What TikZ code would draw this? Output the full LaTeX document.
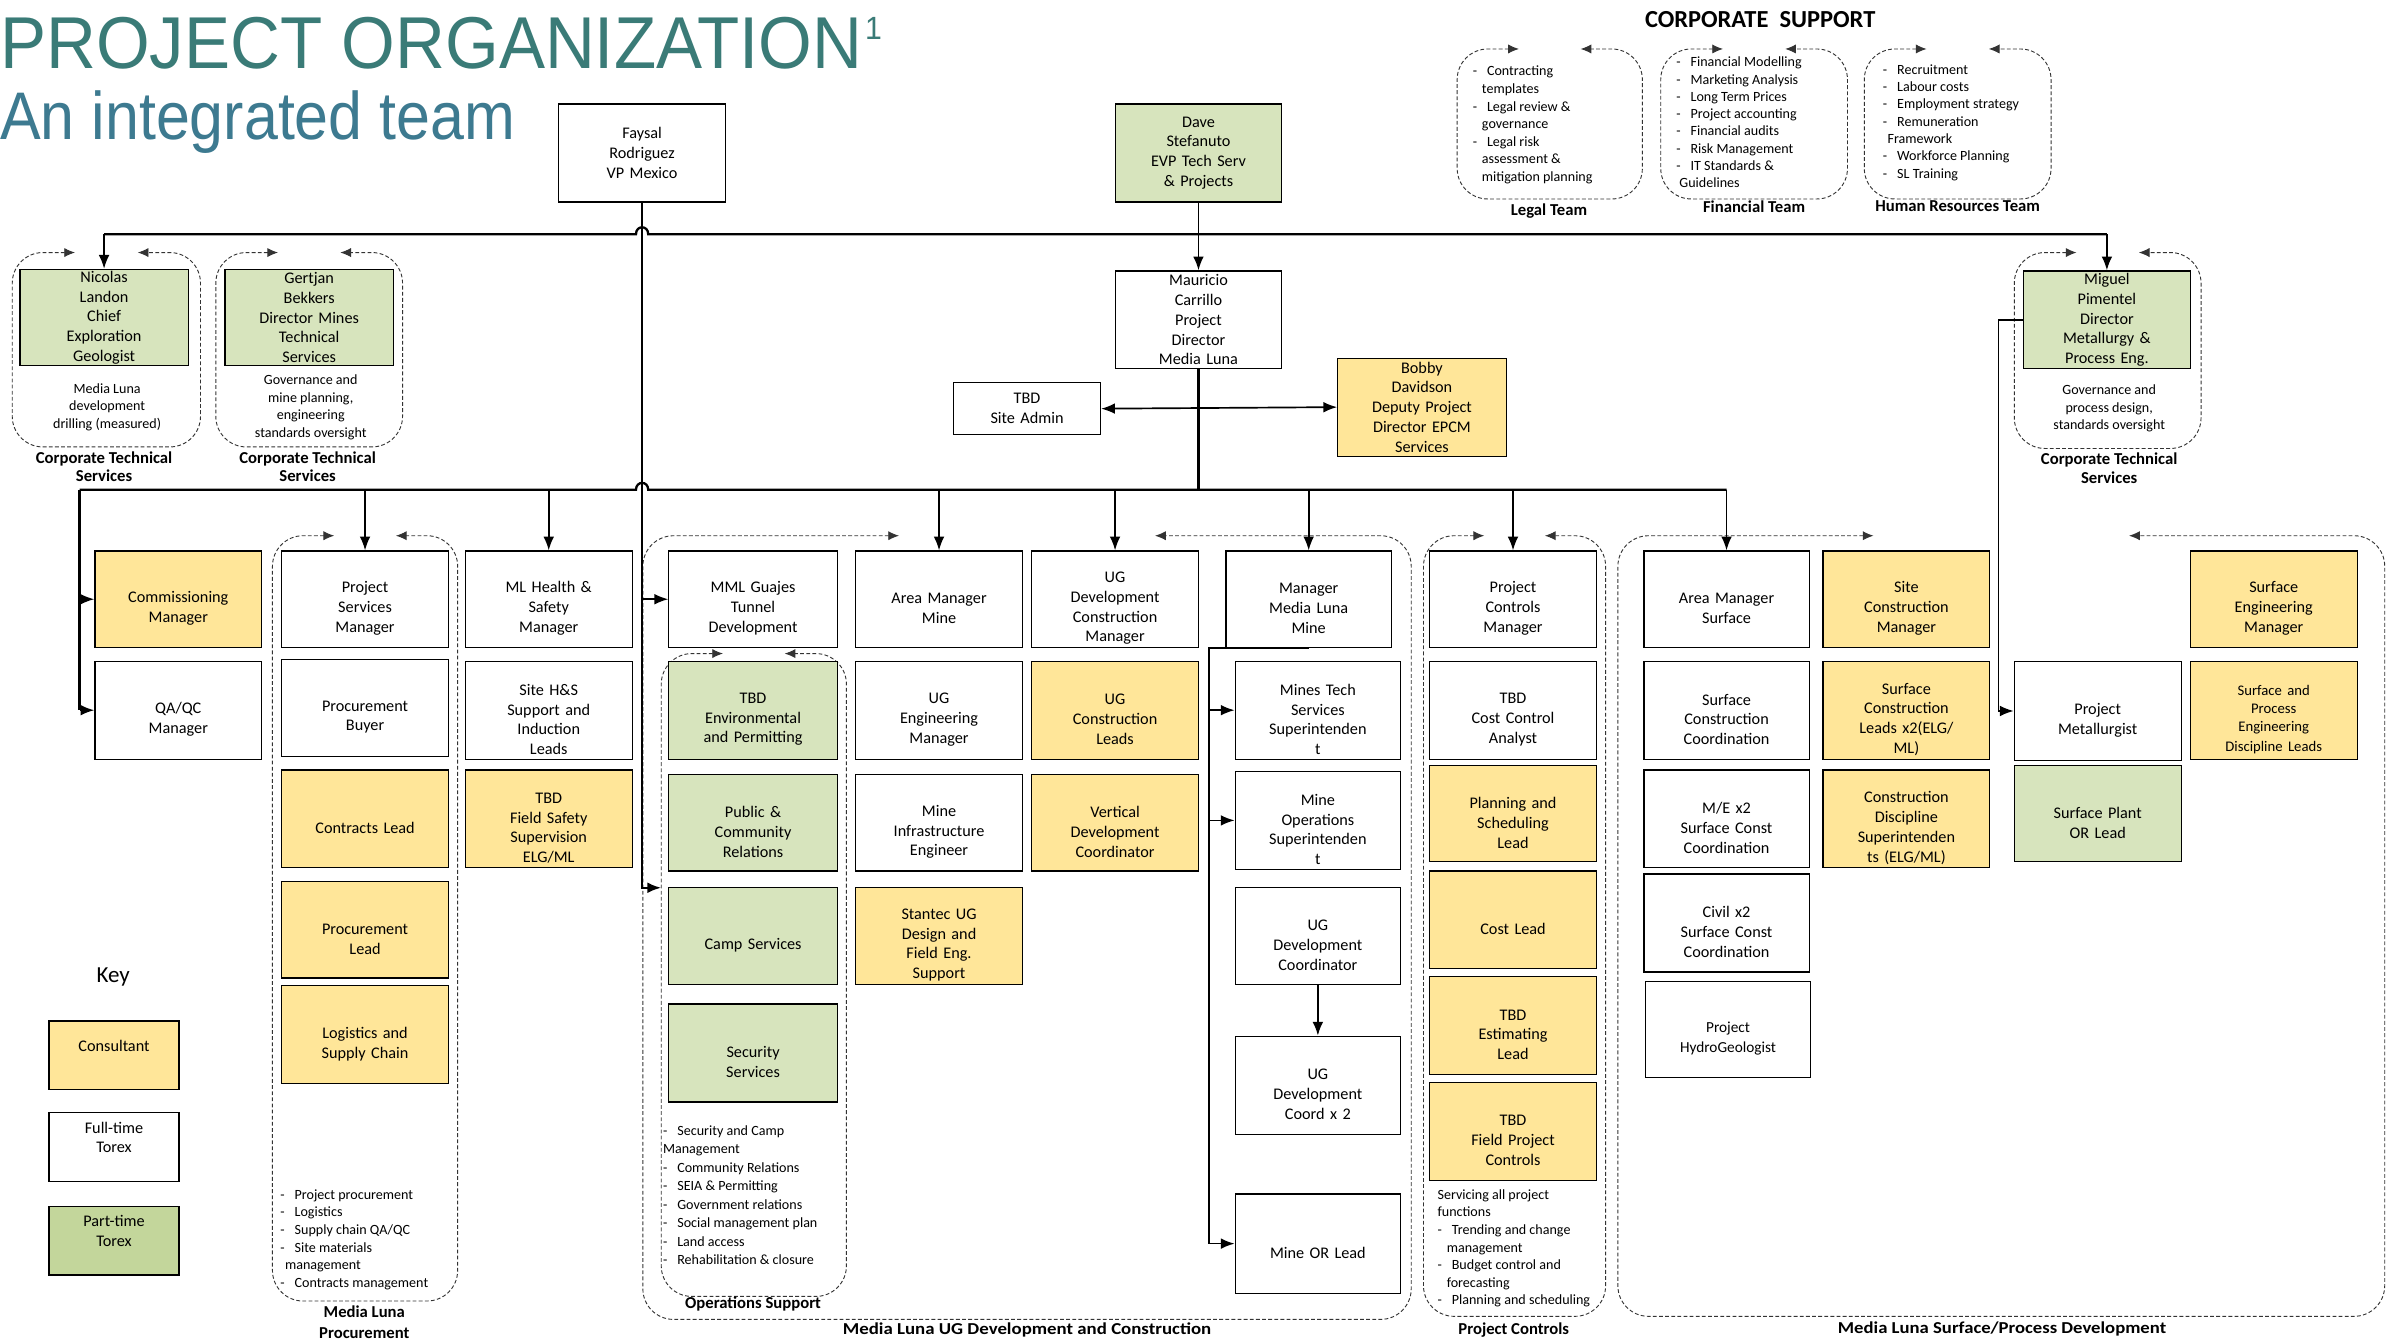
\documentclass[tikz,border=0pt]{standalone}
\usepackage{fontspec}
\setmainfont{Carlito}
\newfontfamily\titlefont{Liberation Sans}
\usepackage{graphicx}
\usetikzlibrary{arrows.meta,calc}
\definecolor{yel}{HTML}{FFE699}
\definecolor{grn}{HTML}{D7E4BD}
\definecolor{kgrn}{HTML}{C3D69B}
\definecolor{tealA}{HTML}{3A7B77}
\definecolor{tealB}{HTML}{3D7A90}
\newcommand{\fsz}[2]{\fontsize{#1}{#2}\selectfont}
\newcommand{\dsh}{-\hspace{6.5pt}}
\newcommand{\bxg}[8]{%
  \pgfmathsetmacro\bxw{#5-#3}\pgfmathsetmacro\bxh{#6-#4}\pgfmathsetmacro\bxtw{#5-#3-4}%
  \node[bxs,#2,minimum width=\bxw pt,minimum height=\bxh pt] (#1) at ({(#3+#5)/2},{(#4+#6)/2}) {};
  \node[btxt,text width=\bxtw pt] (#1t) at ($(#1.center)+(0,#8)$) {#7};}
\newcommand{\bx}[7]{\bxg{#1}{#2}{#3}{#4}{#5}{#6}{#7}{0}}
\newcommand{\bxl}[7]{\bxg{#1}{#2}{#3}{#4}{#5}{#6}{#7}{6}}
\newcommand{\dgrp}[4]{%
  \draw[grp] ({#1+(#3-#1)/3},#2) -- (#1,#2) -- (#1,#4) -- (#3,#4) -- (#3,#2) -- ({#1+2*(#3-#1)/3},#2);}
\begin{document}
\begin{tikzpicture}[x=1pt,y=-1pt,
  bxs/.style={draw=black,line width=0.8pt,inner sep=0pt},
  btxt/.style={inner sep=0pt,align=center,font=\fsz{10.6}{12.9}},
  conbar/.style={line width=1.5pt,draw=black},
  condrop/.style={line width=1.1pt,draw=black,-{Latex[length=9pt,width=7pt]}},
  grp/.style={draw=black!80,line width=0.6pt,dash pattern=on 2.5pt off 1.5pt,rounded corners=20pt,{Latex[length=7pt,width=6pt]}-{Latex[length=7pt,width=6pt]}},
  note/.style={inner sep=0,align=left,font=\fsz{9.2}{11.5},anchor=north west},
  cnote/.style={inner sep=0,align=center,font=\fsz{9.2}{11.5}},
  lbl/.style={inner sep=0,align=center,font=\bfseries\fsz{10.9}{12.2}},
]
\fill[white] (0,0) rectangle (1568,877);
\useasboundingbox (0,0) rectangle (1568,877);

% titles
\node[anchor=base west,inner sep=0,text=tealA,font=\titlefont\fsz{48}{50}] (title1) at (0,45) {\scalebox{0.94}[1]{PROJECT ORGANIZATION\hspace{2pt}\raisebox{19pt}{\fsz{21}{21}1}}};
\node[anchor=base west,inner sep=0,text=tealB,font=\titlefont\fsz{44}{46}] (title2) at (0,91) {\scalebox{0.905}[1]{An integrated team}};

% corporate support
\node[inner sep=0,font=\bfseries\fsz{16}{18}] (cs) at (1150,13) {CORPORATE\ \ SUPPORT};
\dgrp{952}{32}{1073}{130}
\dgrp{1085}{32}{1207}{130}
\dgrp{1218}{32}{1340}{130}
\node[note] (legaln) at (962,43) {\dsh Contracting\\\hspace{6pt}templates\\\dsh Legal review \&\\\hspace{6pt}governance\\\dsh Legal risk\\\hspace{6pt}assessment \&\\\hspace{6pt}mitigation planning};
\node[note,font=\fsz{9.2}{11.3}] (finn) at (1095,37) {\dsh Financial Modelling\\\dsh Marketing Analysis\\\dsh Long Term Prices\\\dsh Project accounting\\\dsh Financial audits\\\dsh Risk Management\\\dsh IT Standards \&\\\hspace{2pt}Guidelines};
\node[note,font=\fsz{9.2}{11.3}] (hrn) at (1230,42) {\dsh Recruitment\\\dsh Labour costs\\\dsh Employment strategy\\\dsh Remuneration\\\hspace{3pt}Framework\\\dsh Workforce Planning\\\dsh SL Training};
\node[lbl] (legall) at (1012,138) {Legal Team};
\node[lbl] (finl) at (1146,135) {Financial Team};
\node[lbl] (hrl) at (1279,135) {Human Resources Team};

% top boxes
\bx{fay}{fill=white}{365}{68}{474}{132}{Faysal\\Rodriguez\\VP Mexico}
\bx{dave}{fill=grn}{729}{68}{837}{132}{Dave\\Stefanuto\\EVP Tech Serv\\\& Projects}
\bx{nic}{fill=grn}{13}{176}{123}{239}{Nicolas\\Landon\\Chief\\Exploration\\Geologist}
\bx{ger}{fill=grn}{147}{176}{257}{239}{Gertjan\\Bekkers\\Director Mines\\Technical\\Services}
\bx{mau}{fill=white}{729}{177}{837}{241}{Mauricio\\Carrillo\\Project\\Director\\Media Luna}
\bx{tbd}{fill=white}{623}{250}{719}{284}{TBD\\Site Admin}
\bx{bob}{fill=yel}{874}{234}{984}{298}{Bobby\\Davidson\\Deputy Project\\Director EPCM\\Services}
\bx{mig}{fill=grn}{1322}{177}{1431}{241}{Miguel\\Pimentel\\Director\\Metallurgy \&\\Process Eng.}

\dgrp{8}{165}{131}{292}
\dgrp{141}{165}{263}{292}
\dgrp{1316}{165}{1438}{293}
\node[cnote] (nicn) at (70,266) {Media Luna\\development\\drilling (measured)};
\node[cnote] (gern) at (203,266) {Governance and\\mine planning,\\engineering\\standards oversight};
\node[cnote] (mign) at (1378,267) {Governance and\\process design,\\standards oversight};
\node[lbl] (nicl) at (68,305) {Corporate Technical\\Services};
\node[lbl] (gerl) at (201,305) {Corporate Technical\\Services};
\node[lbl] (migl) at (1378,306) {Corporate Technical\\Services};

% groups
\dgrp{178}{350}{299}{850}
\dgrp{420}{350}{922}{862}
\dgrp{432}{427}{553}{847}
\dgrp{930}{350}{1049}{860}
\dgrp{1057}{350}{1558}{860}

% column boxes
\bxl{com}{fill=yel}{62}{360}{171}{423}{Commissioning\\Manager}
\bxl{qa}{fill=white}{62}{432}{171}{496}{QA/QC\\Manager}
\bxl{psm}{fill=white}{184}{360}{293}{423}{Project\\Services\\Manager}
\bxl{pb}{fill=white}{184}{431}{293}{494}{Procurement\\Buyer}
\bxl{cl}{fill=yel}{184}{503}{293}{567}{Contracts Lead}
\bxl{pl}{fill=yel}{184}{576}{293}{639}{Procurement\\Lead}
\bxl{lsc}{fill=yel}{184}{644}{293}{708}{Logistics and\\Supply Chain}
\bxl{hs}{fill=white}{304}{360}{413}{423}{ML Health \&\\Safety\\Manager}
\bxl{shs}{fill=white}{304}{432}{413}{496}{Site H\&S\\Support and\\Induction\\Leads}
\bxl{fss}{fill=yel}{304}{503}{413}{567}{TBD\\Field Safety\\Supervision\\ELG/ML}
\bxl{mml}{fill=white}{437}{360}{547}{423}{MML Guajes\\Tunnel\\Development}
\bxl{env}{fill=grn}{437}{432}{547}{496}{TBD\\Environmental\\and Permitting}
\bxl{pcr}{fill=grn}{437}{506}{547}{569}{Public \&\\Community\\Relations}
\bxl{camp}{fill=grn}{437}{580}{547}{643}{Camp Services}
\bxl{sec}{fill=grn}{437}{656}{547}{720}{Security\\Services}
\bxl{amm}{fill=white}{559}{360}{668}{423}{Area Manager\\Mine}
\bxl{uge}{fill=white}{559}{432}{668}{496}{UG\\Engineering\\Manager}
\bxl{mie}{fill=white}{559}{506}{668}{569}{Mine\\Infrastructure\\Engineer}
\bxl{stan}{fill=yel}{559}{580}{668}{643}{Stantec UG\\Design and\\Field Eng.\\Support}
\bxl{ugdcm}{fill=white}{674}{360}{783}{423}{UG\\Development\\Construction\\Manager}
\bxl{ugcl}{fill=yel}{674}{432}{783}{496}{UG\\Construction\\Leads}
\bxl{vdc}{fill=yel}{674}{506}{783}{569}{Vertical\\Development\\Coordinator}
\bxl{mgr}{fill=white}{801}{360}{909}{423}{Manager\\Media Luna\\Mine}
\bxl{mts}{fill=white}{807}{432}{915}{496}{Mines Tech\\Services\\Superintenden\\t}
\bxl{mos}{fill=white}{807}{504}{915}{568}{Mine\\Operations\\Superintenden\\t}
\bxl{ugdc}{fill=white}{807}{580}{915}{643}{UG\\Development\\Coordinator}
\bxl{ugdcb}{fill=white}{807}{677}{915}{741}{UG\\Development\\Coord x 2}
\bxl{mor}{fill=white}{807}{780}{915}{845}{Mine OR Lead}
\bxl{pcm}{fill=white}{934}{360}{1043}{423}{Project\\Controls\\Manager}
\bxl{cca}{fill=white}{934}{432}{1043}{496}{TBD\\Cost Control\\Analyst}
\bxl{psl}{fill=yel}{934}{500}{1043}{563}{Planning and\\Scheduling\\Lead}
\bxl{cost}{fill=yel}{934}{569}{1043}{633}{Cost Lead}
\bxl{est}{fill=yel}{934}{638}{1043}{702}{TBD\\Estimating\\Lead}
\bxl{fpc}{fill=yel}{934}{707}{1043}{771}{TBD\\Field Project\\Controls}
\bxl{ams}{fill=white}{1074}{360}{1182}{423}{Area Manager\\Surface}
\bxl{scc}{fill=white}{1074}{432}{1182}{496}{Surface\\Construction\\Coordination}
\bxl{me}{fill=white}{1074}{503}{1182}{567}{M/E x2\\Surface Const\\Coordination}
\bxl{civ}{fill=white}{1074}{571}{1182}{635}{Civil x2\\Surface Const\\Coordination}
\bxl{hyd}{fill=white}{1075}{641}{1183}{704}{\fsz{10}{12.5}Project\\HydroGeologist}
\bxl{scm}{fill=yel}{1191}{360}{1300}{423}{Site\\Construction\\Manager}
\bxl{scl}{fill=yel}{1191}{432}{1300}{496}{Surface\\Construction\\Leads x2(ELG/\\ML)}
\bxl{cds}{fill=yel}{1191}{503}{1300}{567}{Construction\\Discipline\\Superintenden\\ts (ELG/ML)}
\bxl{pmet}{fill=white}{1316}{432}{1425}{497}{Project\\Metallurgist}
\bxl{spor}{fill=grn}{1316}{500}{1425}{563}{Surface Plant\\OR Lead}
\bxl{sem}{fill=yel}{1431}{360}{1540}{423}{Surface\\Engineering\\Manager}
\bxl{spe}{fill=yel}{1431}{432}{1540}{496}{\fsz{9.6}{12}Surface and\\Process\\Engineering\\Discipline Leads}

% notes and labels
\node[note] (procn) at (183,777) {\dsh Project procurement\\\dsh Logistics\\\dsh Supply chain QA/QC\\\dsh Site materials\\\hspace{3pt}management\\\dsh Contracts management};
\node[note,font=\fsz{9.2}{12.1}] (opsn) at (433,735) {\dsh Security and Camp\\Management\\\dsh Community Relations\\\dsh SEIA \& Permitting\\\dsh Government relations\\\dsh Social management plan\\\dsh Land access\\\dsh Rehabilitation \& closure};
\node[note] (pcn) at (939,777) {Servicing all project\\functions\\\dsh Trending and change\\\hspace{6pt}management\\\dsh Budget control and\\\hspace{6pt}forecasting\\\dsh Planning and scheduling};
\node[lbl,font=\bfseries\fsz{10.9}{14}] (procl) at (238,864) {Media Luna\\Procurement};
\node[lbl] (opsl) at (492,852) {Operations Support};
\node[lbl] (ugl) at (671,869) {\scalebox{1.13}[1]{Media Luna UG Development and Construction}};
\node[lbl] (pcl) at (989,869) {Project Controls};
\node[lbl] (surfl) at (1308,868) {\scalebox{1.12}[1]{Media Luna Surface/Process Development}};

% key
\node[inner sep=0,font=\fsz{15}{17}] (key) at (74,638) {Key};
\bx{kcon}{fill=yel}{32}{667}{117}{712}{Consultant\\\mbox{}}
\bx{kft}{fill=white}{32}{727}{117}{772}{Full-time\\Torex\\\mbox{}}
\bx{kpt}{fill=kgrn}{32}{788}{117}{833}{Part-time\\Torex\\\mbox{}}

% connectors
\coordinate (bary) at (0,153);
\coordinate (bartwo) at (0,320);
\coordinate (btl) at (52,320);
\coordinate (opsin) at (432,580);
\draw[conbar] (nic.north |- bary) -- ($(fay.south |- bary)+(-4,0)$) .. controls +(0,-6) and +(0,-6) .. ($(fay.south |- bary)+(4,0)$) -- (mig.north |- bary);
\draw[condrop] (nic.north |- bary) -- (nic.north);
\draw[condrop] (mig.north |- bary) -- (mig.north);
\draw[condrop] (dave.south) -- (mau.north);
\draw[conbar,-{Latex[length=9pt,width=7pt]}] (fay.south) |- (opsin);
\draw[condrop] (fay.south |- mml.west) -- (mml.west);
\draw[conbar] (mau.south) -- (mau.south |- bartwo);
\draw[conbar] (btl) -- ($(fay.south |- bartwo)+(-4,0)$) .. controls +(0,-6) and +(0,-6) .. ($(fay.south |- bartwo)+(4,0)$) -- (ams.north |- bartwo);
\draw[conbar] (btl) -- (btl |- qa.west);
\draw[condrop] (btl |- com.west) -- (com.west);
\draw[condrop] (btl |- qa.west) -- (qa.west);
\foreach \n in {psm,hs,amm,ugdcm,mgr,pcm,ams} \draw[condrop] (\n.north |- bartwo) -- (\n.north);
\draw[condrop,{Latex[length=9pt,width=7pt]}-{Latex[length=9pt,width=7pt]}] (tbd.east) -- (bob.west);
\coordinate (mlc) at ($(mgr.south)+(-65,0)$);
\draw[line width=1.1pt] (mgr.south) -- (mlc) -- (mlc |- mor.west);
\foreach \n in {mts,mos,mor} \draw[condrop] (mlc |- \n.west) -- (\n.west);
\draw[condrop] (ugdc.south) -- (ugdcb.north);
\coordinate (mgc) at ($(mig.west)+(-16,0)$);
\draw[line width=1.1pt] (mig.west) -- (mgc) -- (mgc |- pmet.west);
\draw[condrop] (mgc |- pmet.west) -- (pmet.west);
\end{tikzpicture}
\end{document}
